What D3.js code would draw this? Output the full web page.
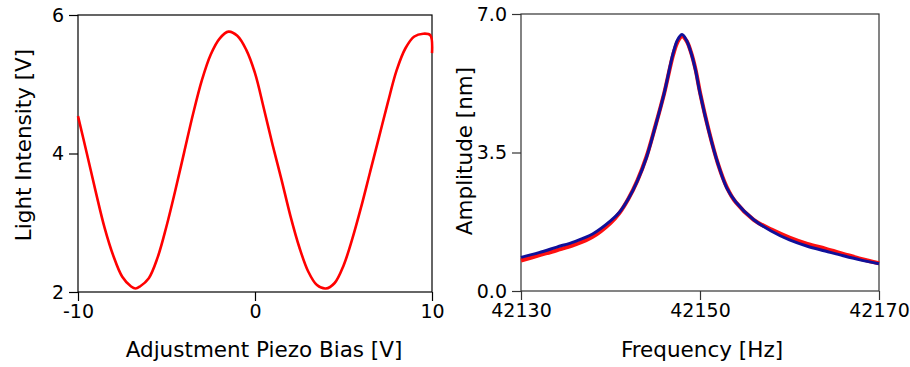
<!DOCTYPE html>
<html><head><meta charset="utf-8">
<script src="https://cdn.jsdelivr.net/npm/d3@7"></script>
<style>
html,body{margin:0;padding:0;background:#fff;}
svg{display:block;}
text{font-family:"DejaVu Sans",sans-serif;fill:#000;}
</style></head>
<body>
<script>
// ---- Left panel data: light intensity vs adjustment piezo bias ----
const biasV = [-10,-9.5,-9,-8.5,-8,-7.5,-7,-6.75,-6.5,-6,-5.5,-5,-4.5,-4,-3.5,-3,-2.5,-2,-1.5,-1,-0.5,0,0.5,1,1.5,2,2.5,3,3.5,4,4.5,5,5.5,6,6.5,7,7.5,8,8.5,9,9.5,9.9,10];
const intensityV = [4.54,4.0,3.45,2.93,2.52,2.22,2.08,2.05,2.08,2.20,2.50,2.95,3.47,4.02,4.57,5.06,5.43,5.66,5.76,5.70,5.50,5.16,4.65,4.12,3.62,3.10,2.65,2.30,2.10,2.05,2.13,2.38,2.77,3.23,3.73,4.23,4.73,5.20,5.52,5.69,5.73,5.71,5.45];
const leftXTicks = [-10,0,10];
const leftYTicks = [2,4,6];

// ---- Right panel data: amplitude vs frequency ----
const freqHz = [42130,42132,42134,42136,42138,42140,42141,42142,42143,42144,42145,42146,42147,42147.5,42148,42148.5,42149,42149.5,42150,42151,42152,42153,42154,42156,42158,42160,42162,42164,42166,42168,42170];
const ampMeasured = [0.77,0.90,1.03,1.17,1.37,1.72,1.97,2.33,2.79,3.38,4.16,5.00,5.97,6.30,6.44,6.32,6.03,5.60,5.02,4.04,3.22,2.62,2.24,1.80,1.55,1.35,1.19,1.07,0.94,0.81,0.70];
const ampFit = [0.85,0.97,1.11,1.25,1.44,1.77,1.99,2.33,2.78,3.36,4.15,5.00,6.01,6.35,6.48,6.33,6.02,5.58,5.00,4.03,3.22,2.60,2.25,1.80,1.51,1.29,1.13,1.01,0.89,0.78,0.69];
const rightXTicks = [42130,42150,42170];
const rightYTicks = [0,3.5,7];

const svg = d3.select("body").append("svg").attr("width",910).attr("height",367);
svg.append("rect").attr("width",910).attr("height",367).attr("fill","#fff");

function panel(o){
  const g = svg.append("g");
  const x = d3.scaleLinear().domain(o.xd).range([o.x0,o.x1]);
  const y = d3.scaleLinear().domain(o.yd).range([o.y1,o.y0]);
  const ax = g.append("g").attr("transform",`translate(0,${o.y1})`)
    .call(d3.axisBottom(x).tickValues(o.xt).tickSize(9).tickSizeOuter(0).tickPadding(4).tickFormat(o.xf));
  const ay = g.append("g").attr("transform",`translate(${o.x0},0)`)
    .call(d3.axisLeft(y).tickValues(o.yt).tickSize(9).tickSizeOuter(0).tickPadding(5).tickFormat(o.yf));
  [ax,ay].forEach(a=>{
    a.select(".domain").remove();
    a.selectAll("line").attr("stroke",o.frame).attr("stroke-width",1.2);
    a.selectAll("text").attr("font-size",19).attr("font-family","DejaVu Sans").attr("fill","#000");
  });
  g.append("rect").attr("x",o.x0).attr("y",o.y0).attr("width",o.x1-o.x0).attr("height",o.y1-o.y0)
    .attr("fill","none").attr("stroke",o.frame).attr("stroke-width",1.2);
  o.series.forEach(s=>{
    g.append("path").datum(s.xs.map((v,i)=>[v,s.ys[i]]))
      .attr("fill","none").attr("stroke",s.color).attr("stroke-width",s.w)
      .attr("stroke-linejoin","round").attr("stroke-linecap","butt")
      .attr("d",d3.line().x(d=>x(d[0])).y(d=>y(d[1])).curve(d3.curveCatmullRom.alpha(0.5)));
  });
  g.append("text").attr("x",o.xtx).attr("y",357).attr("text-anchor","middle")
    .attr("font-size",21.5).text(o.xtitle);
  g.append("text").attr("transform",`translate(${o.ytx},${o.yty}) rotate(-90)`).attr("text-anchor","middle")
    .attr("font-size",21.5).text(o.ytitle);
}

panel({x0:78,x1:432,y0:15,y1:292,xd:[-10,10],yd:[2,6],xt:leftXTicks,yt:leftYTicks,
  xf:d=>String(d),yf:d=>String(d),frame:"#000",
  series:[{xs:biasV,ys:intensityV,color:"#ff0000",w:2.6}],
  xtitle:"Adjustment Piezo Bias [V]",xtx:264,ytitle:"Light Intensity [V]",ytx:30.5,yty:145});

panel({x0:521,x1:879,y0:14,y1:291,xd:[42130,42170],yd:[0,7],xt:rightXTicks,yt:rightYTicks,
  xf:d=>String(d),yf:d3.format(".1f"),frame:"#333",
  series:[{xs:freqHz,ys:ampMeasured,color:"#ff1010",w:4},{xs:freqHz,ys:ampFit,color:"#10109a",w:3}],
  xtitle:"Frequency [Hz]",xtx:702,ytitle:"Amplitude [nm]",ytx:471.5,yty:151});
</script>
</body></html>
